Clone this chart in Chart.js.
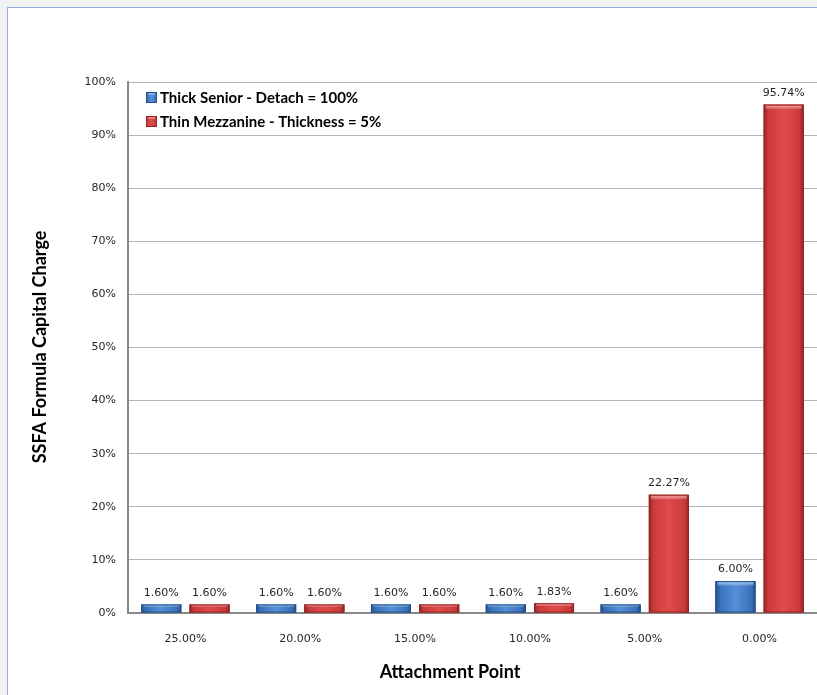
<!DOCTYPE html>
<html>
<head>
<meta charset="utf-8">
<script src="https://cdn.jsdelivr.net/npm/chart.js@4"></script>
<style>
html, body { margin: 0; padding: 0; background: #f2f2f2; overflow: hidden; }
#frame { position: absolute; left: 7px; top: 7px; width: 830px; height: 700px; background: #fff; border: 1px solid #8fb0d8; }
#wrap { position: absolute; left: 0; top: 0; width: 817px; height: 695px; }
</style>
</head>
<body>
<div id="frame"></div>
<div id="wrap"><canvas id="chart"></canvas></div>
<script>
// chart data
const attachmentPoints = ['25.00%', '20.00%', '15.00%', '10.00%', '5.00%', '0.00%'];
const thickSenior = [1.60, 1.60, 1.60, 1.60, 1.60, 6.00];
const thinMezzanine = [1.60, 1.60, 1.60, 1.83, 22.27, 95.74];
const seriesNames = ['Thick Senior - Detach = 100%', 'Thin Mezzanine - Thickness = 5%'];
const xTitle = 'Attachment Point';
const yTitle = 'SSFA Formula Capital Charge';

// base colour + edge/centre shades for the bevelled look
const palettes = [
    { base: '#3a72bb', edge: '#234f88', light: '#5590d8', top: '#8bbcf0' },
    { base: '#cc3c3c', edge: '#922525', light: '#e04a4a', top: '#f08a8a' }
];

function shadeRect(ctx, x, y, w, h, pal) {
    const g = ctx.createLinearGradient(x, 0, x + w, 0);
    g.addColorStop(0, pal.edge);
    g.addColorStop(0.12, pal.base);
    g.addColorStop(0.5, pal.light);
    g.addColorStop(0.88, pal.base);
    g.addColorStop(1, pal.edge);
    ctx.fillStyle = g;
    ctx.fillRect(x, y, w, h);
    // top highlight
    const th = Math.min(5, h / 3);
    const t = ctx.createLinearGradient(0, y, 0, y + th);
    t.addColorStop(0, pal.top);
    t.addColorStop(1, 'rgba(255,255,255,0)');
    ctx.fillStyle = t;
    ctx.fillRect(x + 2, y, w - 4, th);
    ctx.strokeStyle = pal.edge;
    ctx.lineWidth = 1;
    ctx.strokeRect(x + 0.5, y + 0.5, w - 1, h - 1);
}

// bevel shading, value labels, in-plot legend and axis titles
const decorPlugin = {
    id: 'decor',
    afterDatasetsDraw(chart) {
        const ctx = chart.ctx;
        ctx.save();
        chart.data.datasets.forEach((ds, di) => {
            const meta = chart.getDatasetMeta(di);
            meta.data.forEach((bar, i) => {
                const w = bar.width;
                const x = bar.x - w / 2;
                const h = bar.base - bar.y;
                shadeRect(ctx, x, bar.y, w, h, palettes[di]);
                ctx.fillStyle = '#262626';
                ctx.font = '11px "DejaVu Sans"';
                ctx.textAlign = 'center';
                ctx.textBaseline = 'bottom';
                ctx.fillText(ds.data[i].toFixed(2) + '%', bar.x, bar.y - 6);
            });
        });
        // legend in the top-left of the plot area
        const lx = chart.chartArea.left + 18;
        const ly = chart.chartArea.top + 15;
        ctx.font = 'bold 15px Lato';
        ctx.textAlign = 'left';
        ctx.textBaseline = 'middle';
        seriesNames.forEach((name, k) => {
            const y = ly + k * 24;
            shadeRect(ctx, lx, y - 5, 11, 11, palettes[k]);
            ctx.fillStyle = '#000';
            ctx.fillText(name, lx + 14, y + 1);
        });
        // axis titles
        ctx.font = 'bold 18px Lato';
        ctx.textAlign = 'center';
        ctx.fillText(xTitle, 450, 672);
        ctx.translate(40, 347);
        ctx.rotate(-Math.PI / 2);
        ctx.fillText(yTitle, 0, 0);
        ctx.restore();
    }
};

new Chart(document.getElementById('chart').getContext('2d'), {
    type: 'bar',
    data: {
        labels: attachmentPoints,
        datasets: [
            { label: seriesNames[0], data: thickSenior, backgroundColor: palettes[0].base },
            { label: seriesNames[1], data: thinMezzanine, backgroundColor: palettes[1].base }
        ]
    },
    options: {
        responsive: true,
        maintainAspectRatio: false,
        animation: false,
        categoryPercentage: 0.84,
        barPercentage: 0.83,
        layout: { padding: { left: 20, top: 82, right: 0, bottom: 0 } },
        plugins: {
            legend: { display: false },
            tooltip: { enabled: false }
        },
        scales: {
            x: {
                grid: { display: false },
                border: { display: true, color: '#888888', width: 2 },
                ticks: { color: '#262626', font: { family: 'DejaVu Sans', size: 11 }, padding: 12 },
                afterFit: scale => { scale.height = 82; }
            },
            y: {
                min: 0,
                max: 100,
                ticks: {
                    stepSize: 10,
                    color: '#262626',
                    font: { family: 'DejaVu Sans', size: 11 },
                    padding: 12,
                    callback: v => v + '%'
                },
                grid: { color: '#b5b5b5', drawTicks: false },
                border: { color: '#888888', width: 2 },
                afterFit: scale => { scale.width = 108; }
            }
        }
    },
    plugins: [decorPlugin]
});
</script>
</body>
</html>
